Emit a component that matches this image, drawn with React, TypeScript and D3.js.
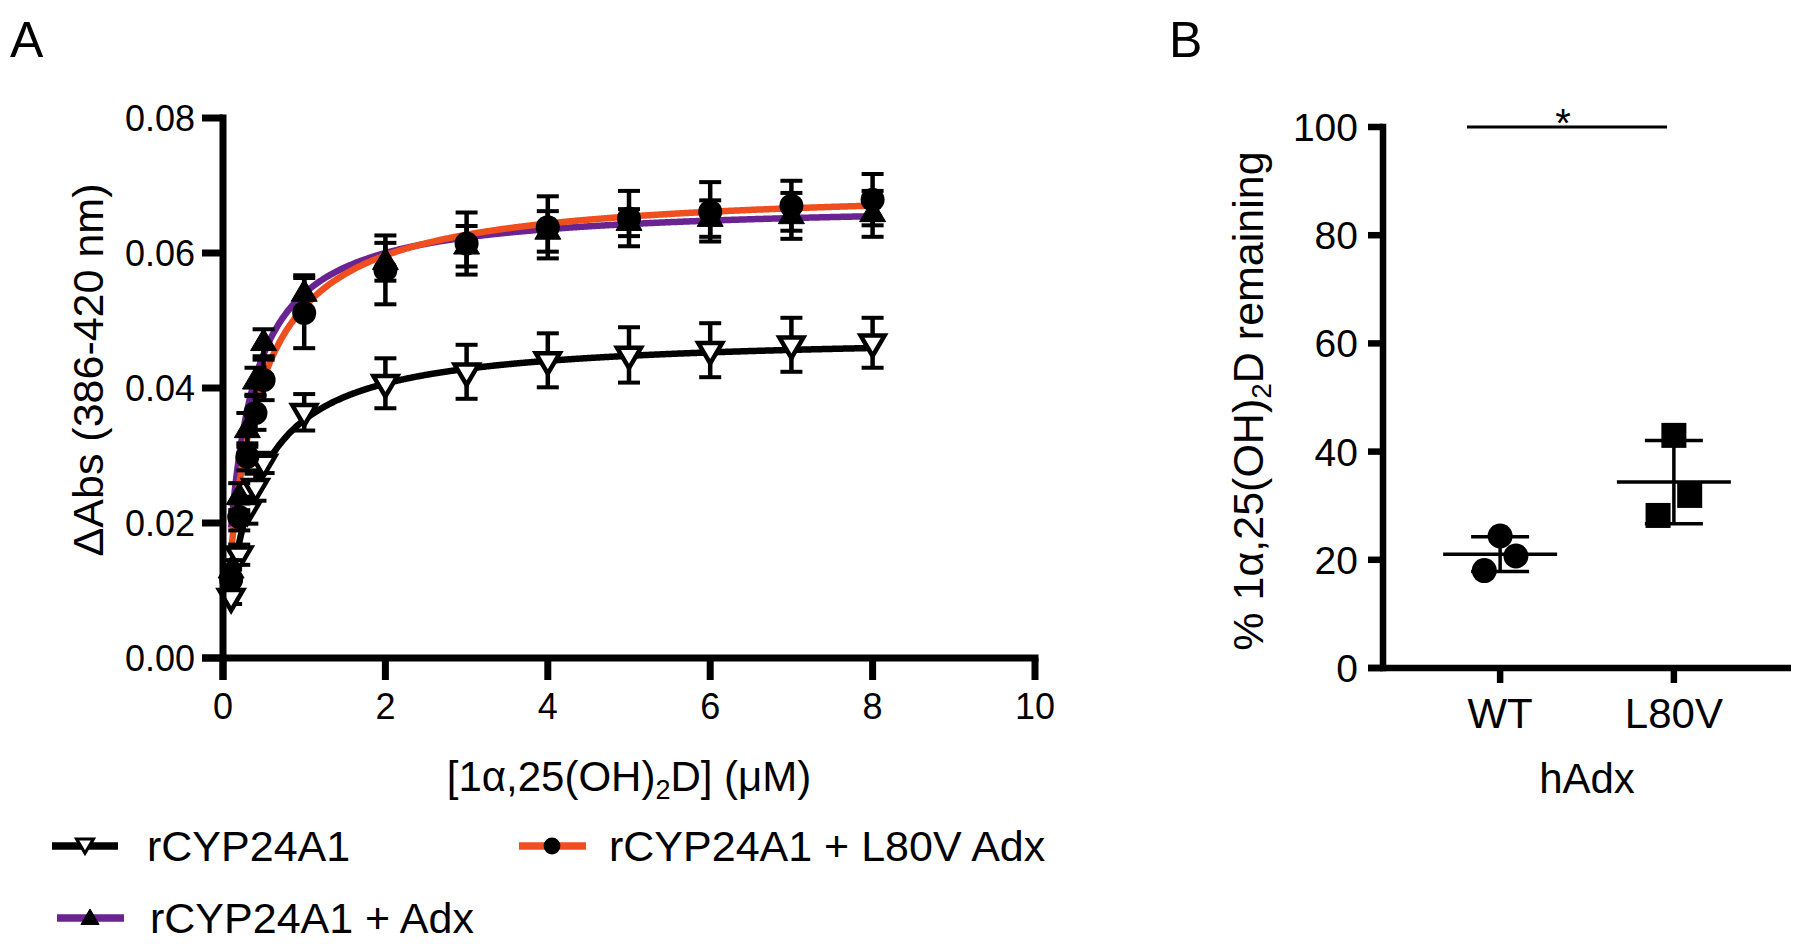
import React from "react";
import * as d3 from "d3";

// ---------- Panel A data ----------
const CONC = [0.1, 0.2, 0.3, 0.4, 0.5, 1, 2, 3, 4, 5, 6, 7, 8];
const RCYP_MEAN = [0.009, 0.0153, 0.0219, 0.0253, 0.0289, 0.0364, 0.0407, 0.0424, 0.0441, 0.0449, 0.0456, 0.0464, 0.0467];
const RCYP_SD = [0.001, 0.0015, 0.002, 0.002, 0.0015, 0.0027, 0.0037, 0.004, 0.004, 0.0041, 0.004, 0.004, 0.0037];
const ADX_MEAN = [0.013, 0.0239, 0.0338, 0.041, 0.0467, 0.054, 0.0587, 0.061, 0.0632, 0.0645, 0.0651, 0.0655, 0.0658];
const ADX_SD = [0.0015, 0.002, 0.0025, 0.002, 0.002, 0.0027, 0.0028, 0.003, 0.003, 0.002, 0.0027, 0.0034, 0.0034];
const L80V_MEAN = [0.0116, 0.0209, 0.0298, 0.0363, 0.0412, 0.0511, 0.0575, 0.0614, 0.0638, 0.0651, 0.0661, 0.067, 0.0679];
const L80V_SD = [0.0015, 0.002, 0.002, 0.0025, 0.003, 0.0052, 0.0051, 0.0046, 0.0046, 0.0041, 0.0044, 0.0037, 0.0038];
// one-site binding fit results (Bmax, Kd) for rCYP24A1, +Adx, +L80V Adx
const FIT_BMAX = [0.048, 0.0675, 0.0699];
const FIT_KD = [0.361, 0.25, 0.344];
const SERIES_NAMES = ["rCYP24A1", "rCYP24A1 + Adx", "rCYP24A1 + L80V Adx"];
const A_X_TICKS = [0, 2, 4, 6, 8, 10];
const A_Y_TICKS = [0, 0.02, 0.04, 0.06, 0.08];

// ---------- Panel B data ----------
const B_CATEGORIES = ["WT", "L80V"];
const WT_VALUES = [24.4, 20.7, 18.0];
const L80V_VALUES = [43.0, 31.9, 28.2];
const B_JITTER = [0, 0.091, -0.091];
const B_Y_TICKS = [0, 20, 40, 60, 80, 100];

const FONT = "'Liberation Sans', Arial, Helvetica, sans-serif";
const ORANGE = "#EF4E1E";
const PURPLE = "#6A2392";

function downTri(cx: number, cy: number, s: number) {
  return (d3.line()([[cx - s, cy - 0.6 * s], [cx + s, cy - 0.6 * s], [cx, cy + 1.1 * s]]) || "") + "Z";
}
function upTri(cx: number, cy: number, s: number) {
  return (d3.line()([[cx, cy - 1.1 * s], [cx + s, cy + 0.6 * s], [cx - s, cy + 0.6 * s]]) || "") + "Z";
}

export default function App() {
  // Panel A scales
  const xA = d3.scaleLinear().domain([0, 10]).range([223, 1035]);
  const yA = d3.scaleLinear().domain([0, 0.08]).range([658, 118]);
  const curveXs = d3.range(CONC[0], CONC[CONC.length - 1] + 0.0001, 0.02);
  const lineA = d3.line<[number, number]>().x((d) => xA(d[0])).y((d) => yA(d[1])).curve(d3.curveMonotoneX);
  const curvePaths = FIT_BMAX.map((b, i) =>
    lineA(curveXs.map((x) => [x, (b * x) / (FIT_KD[i] + x)] as [number, number])) || ""
  );
  const curveColors = ["#000", PURPLE, ORANGE];

  const series = [
    { mean: RCYP_MEAN, sd: RCYP_SD, kind: "down" },
    { mean: ADX_MEAN, sd: ADX_SD, kind: "up" },
    { mean: L80V_MEAN, sd: L80V_SD, kind: "circle" },
  ];

  // Panel B scales
  const yB = d3.scaleLinear().domain([0, 100]).range([668, 127]);
  const xB = d3.scalePoint<string>().domain(B_CATEGORIES).range([1383, 1791]).padding(0.674);
  const step = xB.step();
  const groups = [
    { cat: "WT", values: WT_VALUES, kind: "circle" },
    { cat: "L80V", values: L80V_VALUES, kind: "square" },
  ];

  const axW = 7;
  const axWB = 6.5;

  const marker = (kind: string, cx: number, cy: number, scale = 1, key?: any) => {
    if (kind === "down")
      return <path key={key} d={downTri(cx, cy, 12 * scale)} fill="#fff" stroke="#000" strokeWidth={4.5 * scale} strokeLinejoin="miter" />;
    if (kind === "up")
      return <path key={key} d={upTri(cx, cy, 13 * scale)} fill="#000" stroke="#000" strokeWidth={1} />;
    return <circle key={key} cx={cx} cy={cy} r={12 * scale} fill="#000" />;
  };

  return (
    <svg
      width={1800}
      height={944}
      style={{ position: "absolute", left: 0, top: 0, background: "#fff" }}
      fontFamily={FONT}
    >
      <rect x={0} y={0} width={1800} height={944} fill="#fff" />
      {/* Panel labels */}
      <text x={10} y={57} fontSize={50}>A</text>
      <text x={1169} y={57} fontSize={50}>B</text>

      {/* ---------- Panel A ---------- */}
      {/* curves */}
      {curvePaths.map((d, i) => (
        <path key={"c" + i} d={d} fill="none" stroke={curveColors[i]} strokeWidth={6.5} />
      ))}
      {/* points */}
      {series.map((s, si) => (
        <g key={"s" + si}>
          {CONC.map((x, i) => {
            const cx = xA(x);
            const y0 = yA(s.mean[i] - s.sd[i]);
            const y1 = yA(s.mean[i] + s.sd[i]);
            return (
              <g key={i}>
                <line x1={cx} x2={cx} y1={y0} y2={y1} stroke="#000" strokeWidth={4.5} />
                <line x1={cx - 11} x2={cx + 11} y1={y0} y2={y0} stroke="#000" strokeWidth={4} />
                <line x1={cx - 11} x2={cx + 11} y1={y1} y2={y1} stroke="#000" strokeWidth={4} />
              </g>
            );
          })}
          {CONC.map((x, i) => marker(s.kind, xA(x), yA(s.mean[i]), 1, "m" + i))}
        </g>
      ))}
      {/* axes */}
      <line x1={xA(0)} x2={xA(0)} y1={yA(0.08) - axW / 2} y2={680} stroke="#000" strokeWidth={axW} />
      <line x1={202} x2={xA(10) + axW / 2} y1={yA(0)} y2={yA(0)} stroke="#000" strokeWidth={axW} />
      {A_Y_TICKS.map((t) => (
        <g key={"ay" + t}>
          <line x1={202} x2={xA(0)} y1={yA(t)} y2={yA(t)} stroke="#000" strokeWidth={axW} />
          <text x={195} y={yA(t) + 13} fontSize={36} textAnchor="end">{d3.format(".2f")(t)}</text>
        </g>
      ))}
      {A_X_TICKS.map((t) => (
        <g key={"ax" + t}>
          <line x1={xA(t)} x2={xA(t)} y1={yA(0)} y2={680} stroke="#000" strokeWidth={axW} />
          <text x={xA(t)} y={719} fontSize={36} textAnchor="middle">{t}</text>
        </g>
      ))}
      <text x={(xA(0) + xA(10)) / 2} y={791} fontSize={42} textAnchor="middle">
        [1α,25(OH)<tspan fontSize={27} dy={8}>2</tspan><tspan dy={-8}>D] (μM)</tspan>
      </text>
      <text transform="translate(103,370) rotate(-90)" fontSize={43} textAnchor="middle">ΔAbs (386-420 nm)</text>

      {/* Legend */}
      <line x1={52} x2={118} y1={846} y2={846} stroke="#000" strokeWidth={7.5} />
      {marker("down", 85, 844, 0.7)}
      <text x={147} y={861} fontSize={43}>{SERIES_NAMES[0]}</text>
      <line x1={519} x2={586} y1={846} y2={846} stroke={ORANGE} strokeWidth={7.5} />
      {marker("circle", 552, 846, 0.7)}
      <text x={609} y={861} fontSize={43}>{SERIES_NAMES[2]}</text>
      <line x1={57} x2={124} y1={918} y2={918} stroke={PURPLE} strokeWidth={7.5} />
      {marker("up", 90, 919, 0.7)}
      <text x={150} y={933} fontSize={43}>{SERIES_NAMES[1]}</text>

      {/* ---------- Panel B ---------- */}
      {groups.map((g) => {
        const cx = xB(g.cat) as number;
        const m = d3.mean(g.values) as number;
        const sd = d3.deviation(g.values) as number;
        return (
          <g key={g.cat}>
            {g.values.map((v, i) => {
              const px = cx + B_JITTER[i] * step;
              const py = yB(v);
              return g.kind === "circle" ? (
                <circle key={i} cx={px} cy={py} r={12.5} fill="#000" />
              ) : (
                <rect key={i} x={px - 12.5} y={py - 12.5} width={25} height={25} fill="#000" />
              );
            })}
            <line x1={cx - 57} x2={cx + 57} y1={yB(m)} y2={yB(m)} stroke="#000" strokeWidth={3.5} />
            <line x1={cx} x2={cx} y1={yB(m - sd)} y2={yB(m + sd)} stroke="#000" strokeWidth={3.5} />
            <line x1={cx - 29} x2={cx + 29} y1={yB(m - sd)} y2={yB(m - sd)} stroke="#000" strokeWidth={3.5} />
            <line x1={cx - 29} x2={cx + 29} y1={yB(m + sd)} y2={yB(m + sd)} stroke="#000" strokeWidth={3.5} />
          </g>
        );
      })}
      <line x1={1383} x2={1383} y1={yB(100) - axWB / 2} y2={yB(0) + axWB / 2} stroke="#000" strokeWidth={axWB} />
      <line x1={1368} x2={1791} y1={yB(0)} y2={yB(0)} stroke="#000" strokeWidth={axWB} />
      {B_Y_TICKS.map((t) => (
        <g key={"by" + t}>
          <line x1={1368} x2={1383} y1={yB(t)} y2={yB(t)} stroke="#000" strokeWidth={axWB} />
          <text x={1358} y={yB(t) + 14} fontSize={39} textAnchor="end">{t}</text>
        </g>
      ))}
      {B_CATEGORIES.map((c) => (
        <g key={"bx" + c}>
          <line x1={xB(c) as number} x2={xB(c) as number} y1={yB(0)} y2={683} stroke="#000" strokeWidth={axWB} />
          <text x={xB(c) as number} y={728} fontSize={42} textAnchor="middle">{c}</text>
        </g>
      ))}
      <text x={1587} y={793} fontSize={42} textAnchor="middle">hAdx</text>
      <text transform="translate(1263,401) rotate(-90)" fontSize={43} textAnchor="middle">
        % 1α,25(OH)<tspan fontSize={28} dy={8}>2</tspan><tspan dy={-8}>D remaining</tspan>
      </text>
      {/* significance */}
      <line x1={1467} x2={1667} y1={127} y2={127} stroke="#000" strokeWidth={3} />
      <text x={1563} y={137} fontSize={40} textAnchor="middle">*</text>
    </svg>
  );
}
